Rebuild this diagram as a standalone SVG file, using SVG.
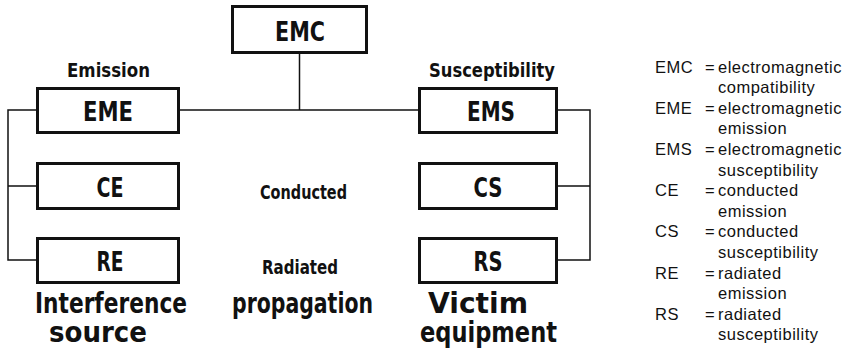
<svg xmlns="http://www.w3.org/2000/svg" width="849" height="349" viewBox="0 0 849 349">
  <style>
    .box { fill: #fff; stroke: #111; stroke-width: 3; }
    .wire { fill: none; stroke: #111; stroke-width: 1.5; }
    .lbl { font-family: "DejaVu Sans Condensed", "DejaVu Sans", "Liberation Sans", sans-serif; font-stretch: condensed; font-weight: bold; fill: #111; }
    .node { font-size: 26px; text-anchor: middle; }
    .sub { font-size: 20px; text-anchor: middle; }
    .big { font-size: 28px; }
    .key { font-family: "Liberation Sans", Arial, sans-serif; font-size: 16.5px; letter-spacing: 0.5px; fill: #111; }
  </style>

  <!-- connectors -->
  <g id="connectors">
    <path class="wire" d="M299.5 54 V110 M180 110 H418"/>
    <path class="wire" d="M36 110 H8 V260 H36 M8 186 H36"/>
    <path class="wire" d="M558 110 H590 V260 H558 M558 186 H590"/>
  </g>

  <!-- top node -->
  <g id="emc">
    <rect class="box" x="232.5" y="6.5" width="134" height="46"/>
    <text class="lbl node" x="300" y="41" textLength="50" lengthAdjust="spacingAndGlyphs">EMC</text>
  </g>

  <!-- emission side -->
  <text class="lbl sub" x="108.5" y="77" textLength="83" lengthAdjust="spacingAndGlyphs">Emission</text>
  <g id="eme">
    <rect class="box" x="37.5" y="88.5" width="141" height="44"/>
    <text class="lbl node" x="108" y="121" textLength="50" lengthAdjust="spacingAndGlyphs">EME</text>
  </g>
  <g id="ce">
    <rect class="box" x="37.5" y="163.5" width="141" height="45"/>
    <text class="lbl node" x="110" y="197" textLength="27" lengthAdjust="spacingAndGlyphs">CE</text>
  </g>
  <g id="re">
    <rect class="box" x="37.5" y="238.5" width="141" height="44"/>
    <text class="lbl node" x="110" y="271" textLength="27" lengthAdjust="spacingAndGlyphs">RE</text>
  </g>
  <text class="lbl big" x="35" y="313" textLength="152" lengthAdjust="spacingAndGlyphs">Interference</text>
  <text class="lbl big" x="49" y="342" textLength="98" lengthAdjust="spacingAndGlyphs">source</text>

  <!-- propagation paths -->
  <text class="lbl sub" x="303.5" y="199" textLength="87" lengthAdjust="spacingAndGlyphs">Conducted</text>
  <text class="lbl sub" x="300" y="274" textLength="76" lengthAdjust="spacingAndGlyphs">Radiated</text>
  <text class="lbl big" x="232" y="313" textLength="141" lengthAdjust="spacingAndGlyphs">propagation</text>

  <!-- susceptibility side -->
  <text class="lbl sub" x="492" y="77" textLength="126" lengthAdjust="spacingAndGlyphs">Susceptibility</text>
  <g id="ems">
    <rect class="box" x="419.5" y="88.5" width="137" height="44"/>
    <text class="lbl node" x="491" y="121" textLength="48" lengthAdjust="spacingAndGlyphs">EMS</text>
  </g>
  <g id="cs">
    <rect class="box" x="419.5" y="163.5" width="137" height="45"/>
    <text class="lbl node" x="488" y="197" textLength="29" lengthAdjust="spacingAndGlyphs">CS</text>
  </g>
  <g id="rs">
    <rect class="box" x="419.5" y="238.5" width="137" height="44"/>
    <text class="lbl node" x="488" y="271" textLength="29" lengthAdjust="spacingAndGlyphs">RS</text>
  </g>
  <text class="lbl big" x="428" y="313" textLength="100" lengthAdjust="spacingAndGlyphs">Victim</text>
  <text class="lbl big" x="420" y="342" textLength="137" lengthAdjust="spacingAndGlyphs">equipment</text>

  <!-- abbreviation key -->
  <g id="key" class="key">
    <text x="655" y="72.5">EMC</text><text x="705" y="72.5">=</text><text x="718" y="72.5">electromagnetic</text>
    <text x="718" y="93.1">compatibility</text>
    <text x="655" y="113.7">EME</text><text x="705" y="113.7">=</text><text x="718" y="113.7">electromagnetic</text>
    <text x="718" y="134.3">emission</text>
    <text x="655" y="154.9">EMS</text><text x="705" y="154.9">=</text><text x="718" y="154.9">electromagnetic</text>
    <text x="718" y="175.5">susceptibility</text>
    <text x="655" y="196.1">CE</text><text x="705" y="196.1">=</text><text x="718" y="196.1">conducted</text>
    <text x="718" y="216.7">emission</text>
    <text x="655" y="237.3">CS</text><text x="705" y="237.3">=</text><text x="718" y="237.3">conducted</text>
    <text x="718" y="257.9">susceptibility</text>
    <text x="655" y="278.5">RE</text><text x="705" y="278.5">=</text><text x="718" y="278.5">radiated</text>
    <text x="718" y="299.1">emission</text>
    <text x="655" y="319.7">RS</text><text x="705" y="319.7">=</text><text x="718" y="319.7">radiated</text>
    <text x="718" y="340.3">susceptibility</text>
  </g>
</svg>
